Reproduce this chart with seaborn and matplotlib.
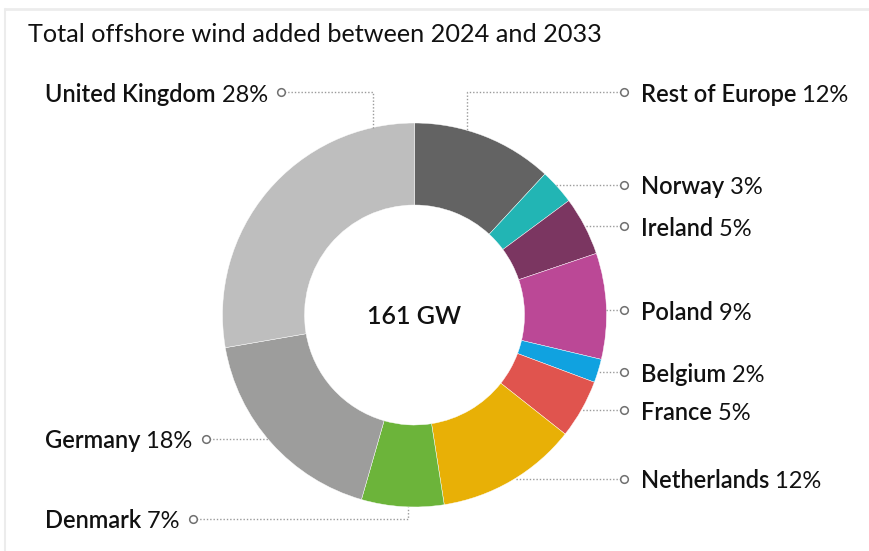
import matplotlib
matplotlib.use("Agg")
import matplotlib.pyplot as plt
import seaborn as sns
import numpy as np

# ---- data ----
countries = ["Rest of Europe", "Norway", "Ireland", "Poland", "Belgium",
             "France", "Netherlands", "Denmark", "Germany", "United Kingdom"]
shares = [12, 3, 5, 9, 2, 5, 12, 7, 18, 28]
colors = ["#636363", "#22b5b4", "#7b3661", "#bb4896", "#10a2e0",
          "#e0544e", "#e8b006", "#6cb43a", "#9d9d9c", "#bebebe"]
center_label = "161 GW"
title = "Total offshore wind added between 2024 and 2033"

# ---- layout (pixels, y downwards) ----
W, H = 870, 551
cx, cy, R, ring = 414.5, 315, 192, 82
label_side = ["R", "R", "R", "R", "R", "R", "R", "L", "L", "L"]
label_y = [92, 185, 226, 310, 372, 410, 479, 519, 439, 92]
leader_vx = [467, None, None, None, None, None, None, 408, None, 373]
right_text_x, right_dot_x = 641, 624
left_text_x = 45

sns.set_theme(style="white")
plt.rcParams['font.family'] = ['Lato', 'DejaVu Sans']

fig = plt.figure(figsize=(W / 100, H / 100), dpi=100)
ax = fig.add_axes([0, 0, 1, 1])

ax.pie(shares, colors=colors, radius=R, center=(cx, cy), startangle=-90,
       counterclock=True, frame=True,
       wedgeprops=dict(width=ring, linewidth=0.3, edgecolor="white"))
ax.set_xlim(0, W)
ax.set_ylim(H, 0)
ax.set_aspect('auto')
ax.axis('off')

# card border
ax.plot([5, W], [8.5, 8.5], color="#ececec", lw=2, zorder=0)
ax.plot([5.5, 5.5], [8.5, H], color="#ececec", lw=1.5, zorder=0)

ax.text(28, 34, title, fontsize=18.2, fontweight='normal', color="#111111",
        va='center', ha='left')
ax.text(cx, cy + 2, center_label, fontsize=18, fontweight='semibold',
        color="#111111", va='center', ha='center')

lab_fs = 17
texts = []
for name, s, side, y in zip(countries, shares, label_side, label_y):
    x0 = right_text_x if side == "R" else left_text_x
    t1 = ax.text(x0, y + 2, name, fontsize=lab_fs, fontweight='semibold',
                 color="#111111", va='center', ha='left')
    t2 = ax.annotate(f" {s}%", xy=(1, 0), xycoords=t1, fontsize=lab_fs,
                     color="#111111", va='bottom', ha='left')
    texts.append((t1, t2))

fig.canvas.draw()
inv = ax.transData.inverted()
dot_style = dict(marker='o', ms=5.5, mfc='white', mec='#707070', mew=1.1,
                 ls='none', zorder=5)
line_style = dict(color='#9a9a9a', lw=1.0, ls=(0, (1, 1.4)), zorder=4)

for i, (side, y) in enumerate(zip(label_side, label_y)):
    if side == "R":
        dx = right_dot_x
    else:
        bb = texts[i][1].get_window_extent()
        dx = inv.transform((bb.x1, 0))[0] + 13
    vx = leader_vx[i]
    if vx is None:
        off = np.sqrt(max(R ** 2 - (y - cy) ** 2, 0))
        ex = cx + off if side == "R" else cx - off
        ax.plot([dx, ex], [y, y], **line_style)
    else:
        off = np.sqrt(R ** 2 - (vx - cx) ** 2)
        ey = cy - off if y < cy else cy + off
        ax.plot([dx, vx, vx], [y, y, ey], **line_style)
    ax.plot([dx], [y], **dot_style)

fig.savefig("out.png", dpi=100, facecolor="white")
